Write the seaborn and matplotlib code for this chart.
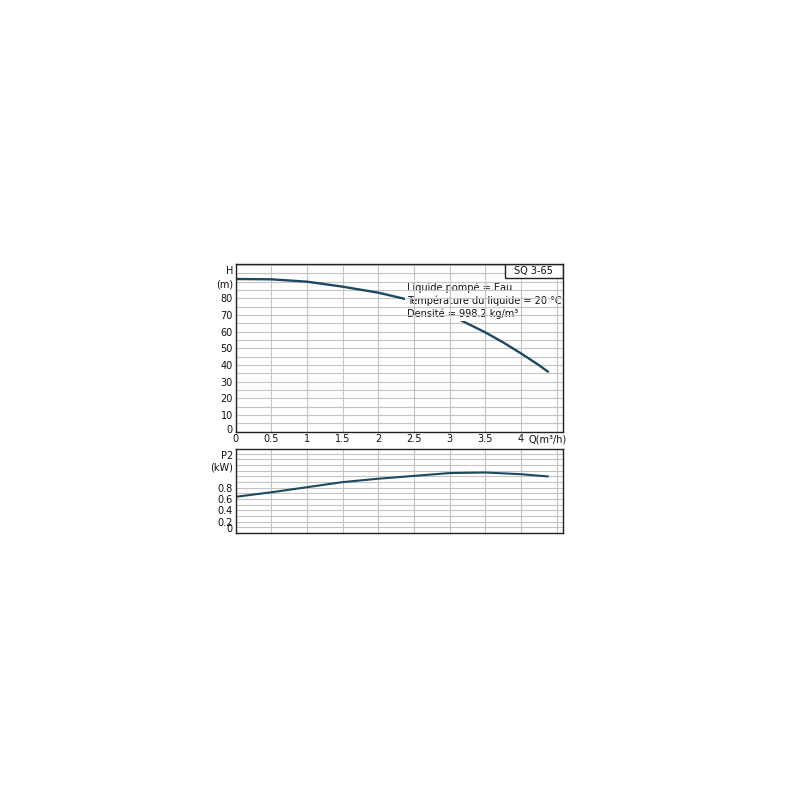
import matplotlib
matplotlib.use("Agg")
import matplotlib.pyplot as plt
import matplotlib.transforms as mtransforms
import seaborn as sns
import pandas as pd
import numpy as np

# Curve readings for SQ 3-65 (flow in m3/h)
q_head = [0, 0.5, 1.0, 1.5, 2.0, 2.4, 2.7, 3.0, 3.15, 3.5, 3.75, 4.0, 4.25, 4.38]
head = [91.6, 91.4, 90.0, 87.0, 83.4, 79.4, 75.5, 70.5, 67.0, 59.6, 53.6, 47.0, 40.0, 36.0]

q_power = [0, 0.5, 1.0, 1.5, 2.0, 2.5, 3.0, 3.5, 4.0, 4.38]
power = [0.64, 0.72, 0.81, 0.90, 0.96, 1.01, 1.06, 1.07, 1.04, 1.00]

h_ticks = [0, 10, 20, 30, 40, 50, 60, 70, 80, 89, 97]
h_labels = ["0", "10", "20", "30", "40", "50", "60", "70", "80", "(m)", "H"]
p_ticks = [0, 0.2, 0.4, 0.6, 0.8, 1.17, 1.38]
p_labels = ["0", "0.2", "0.4", "0.6", "0.8", "(kW)", "P2"]
q_ticks = [0, 0.5, 1, 1.5, 2, 2.5, 3, 3.5, 4]
q_labels = ["0", "0.5", "1", "1.5", "2", "2.5", "3", "3.5", "4"]

pump_name = "SQ 3-65"
info_text = "Liquide pompé = Eau\nTempérature du liquide = 20 °C\nDensité = 998.2 kg/m³"

sns.set_style("white")
plt.rcParams["font.family"] = ["DejaVu Sans"]

curve_color = "#1d4862"
grid_color = "#c4c4c4"
fs = 7

fig = plt.figure(figsize=(8, 8), dpi=100)
ax_h = fig.add_axes([0.2946, 0.4604, 0.4091, 0.2096])
ax_p = fig.add_axes([0.2946, 0.33375, 0.4091, 0.1046])

df_h = pd.DataFrame({"Q": q_head, "H": head})
df_p = pd.DataFrame({"Q": q_power, "P2": power})

sns.lineplot(data=df_h, x="Q", y="H", ax=ax_h, color=curve_color, lw=1.7, zorder=2)
sns.lineplot(data=df_p, x="Q", y="P2", ax=ax_p, color=curve_color, lw=1.5, zorder=2)

grid_q = np.arange(0, 4.6, 0.5)
grid_h = np.arange(0, 101, 5)
grid_p = np.arange(0, 1.49, 0.1)

for ax in (ax_h, ax_p):
    # keep minor grid lines even where they sit on a labelled tick
    ax.xaxis.remove_overlapping_locs = False
    ax.yaxis.remove_overlapping_locs = False
    ax.set_xlim(0, 4.59)
    ax.set_xticks(grid_q, minor=True)
    ax.set_xlabel("")
    ax.set_ylabel("")
    ax.grid(False)
    ax.grid(which="minor", color=grid_color, lw=0.8)
    ax.set_axisbelow(True)
    for sp in ax.spines.values():
        sp.set_color("#222222")
        sp.set_linewidth(1.0)
        sp.set_zorder(6)
    ax.tick_params(which="both", length=0, labelsize=fs, pad=2, colors="#111111")

# head axis
ax_h.set_ylim(0, 100.6)
ax_h.set_yticks(grid_h, minor=True)
ax_h.set_yticks(h_ticks)
ax_h.set_yticklabels(h_labels)
ax_h.set_xticks(q_ticks)
ax_h.set_xticklabels(q_labels)
ax_h.text(4.1, -0.018, "Q(m³/h)", transform=ax_h.get_xaxis_transform(),
          ha="left", va="top", fontsize=fs, color="#111111")

# power axis
ax_p.set_ylim(0, 1.48)
ax_p.set_yticks(grid_p, minor=True)
ax_p.set_yticks(p_ticks)
ax_p.set_yticklabels(p_labels)
ax_p.set_xticks([])

# lift the "0" labels a little, as in the original
for ax, dy in ((ax_h, 3), (ax_p, 4.5)):
    lab = ax.get_yticklabels()[0]
    lab.set_transform(lab.get_transform() + mtransforms.ScaledTranslation(0, dy / 100, fig.dpi_scale_trans))

# info block with white background hiding the curve
info = ax_h.text(0.524, 0.89, info_text, transform=ax_h.transAxes, ha="left", va="top",
                 fontsize=fs, linespacing=1.3, color="#111111", zorder=3,
                 bbox=dict(facecolor="white", edgecolor="none", pad=1.5))

# pump name box
ax_h.add_patch(plt.Rectangle((0.823, 0.9165), 0.177, 0.0835, transform=ax_h.transAxes,
                             facecolor="white", edgecolor="#222222", lw=1.0, zorder=4))
ax_h.text(0.911, 0.958, pump_name, transform=ax_h.transAxes, ha="center", va="center",
          fontsize=fs, color="#111111", zorder=5)

# grid stays visible through the info block (only the curve is hidden there)
fig.canvas.draw()
bb = info.get_bbox_patch().get_window_extent()
(x0, y0), (x1, y1) = ax_h.transData.inverted().transform([[bb.x0, bb.y0], [bb.x1, bb.y1]])
x1 = min(x1, 4.59)
ax_h.vlines([q for q in grid_q if x0 < q < x1], y0, y1, color=grid_color, lw=0.8, zorder=3.5)
ax_h.hlines([h for h in grid_h if y0 < h < y1], x0, x1, color=grid_color, lw=0.8, zorder=3.5)

fig.savefig("out.png", dpi=100, facecolor="white")
plt.close(fig)
